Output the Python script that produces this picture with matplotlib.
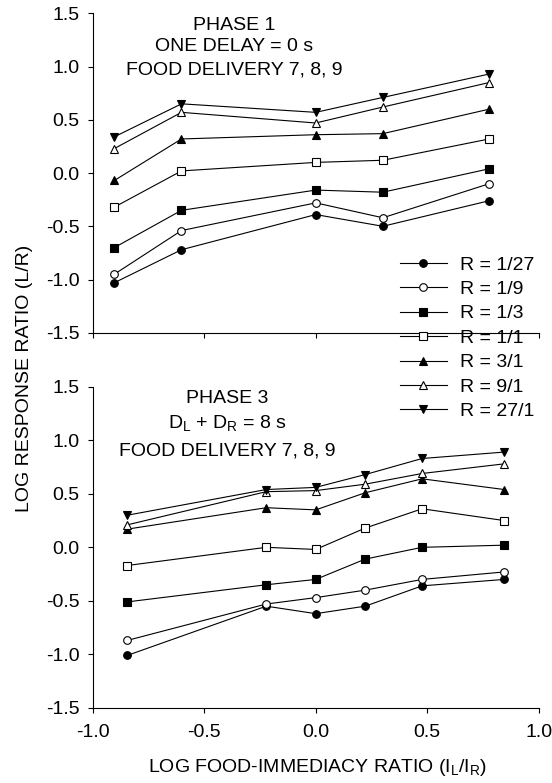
import matplotlib
matplotlib.use("Agg")
from matplotlib import pyplot as plt

plt.rcParams['font.family'] = ['Liberation Sans', 'DejaVu Sans']
plt.rcParams['mathtext.default'] = 'regular'
plt.rcParams['axes.unicode_minus'] = False

# phase 1 (top panel)
x_phase1 = [-0.903, -0.602, 0.0, 0.301, 0.778]
p1_r1_27 = [-1.03, -0.72, -0.39, -0.50, -0.26]
p1_r1_9 = [-0.95, -0.54, -0.28, -0.42, -0.10]
p1_r1_3 = [-0.70, -0.35, -0.16, -0.18, 0.04]
p1_r1_1 = [-0.32, 0.02, 0.10, 0.12, 0.32]
p1_r3_1 = [-0.07, 0.32, 0.36, 0.37, 0.60]
p1_r9_1 = [0.23, 0.57, 0.47, 0.62, 0.85]
p1_r27_1 = [0.34, 0.65, 0.57, 0.71, 0.93]

# phase 3 (bottom panel)
x_phase3 = [-0.845, -0.222, 0.0, 0.222, 0.477, 0.845]
p3_r1_27 = [-1.01, -0.55, -0.62, -0.55, -0.36, -0.30]
p3_r1_9 = [-0.87, -0.53, -0.47, -0.40, -0.30, -0.23]
p3_r1_3 = [-0.51, -0.35, -0.30, -0.11, 0.00, 0.02]
p3_r1_1 = [-0.17, 0.00, -0.02, 0.18, 0.36, 0.25]
p3_r3_1 = [0.17, 0.37, 0.35, 0.51, 0.64, 0.54]
p3_r9_1 = [0.21, 0.52, 0.53, 0.59, 0.69, 0.78]
p3_r27_1 = [0.30, 0.54, 0.56, 0.68, 0.83, 0.89]

labels = ['R = 1/27', 'R = 1/9', 'R = 1/3', 'R = 1/1', 'R = 3/1', 'R = 9/1', 'R = 27/1']
markers = ['o', 'o', 's', 's', '^', '^', 'v']
fills = ['black', 'white', 'black', 'white', 'black', 'white', 'black']

phase1 = [p1_r1_27, p1_r1_9, p1_r1_3, p1_r1_1, p1_r3_1, p1_r9_1, p1_r27_1]
phase3 = [p3_r1_27, p3_r1_9, p3_r1_3, p3_r1_1, p3_r3_1, p3_r9_1, p3_r27_1]

title1 = ['PHASE 1', 'ONE DELAY = 0 s', 'FOOD DELIVERY 7, 8, 9']
title3 = ['PHASE 3', 'D$_L$ + D$_R$ = 8 s', 'FOOD DELIVERY 7, 8, 9']

FS = 14

fig = plt.figure(figsize=(5.52, 7.83), dpi=100)
ax1 = fig.add_axes([0.168, 0.575, 0.808, 0.408])
ax2 = fig.add_axes([0.168, 0.096, 0.808, 0.410])


def draw_panel(ax, xs, series):
    handles = []
    for ys, lab, m, fc in zip(series, labels, markers, fills):
        h, = ax.plot(xs, ys, color='black', lw=0.8, marker=m, markersize=5.5,
                     markerfacecolor=fc, markeredgecolor='black', markeredgewidth=0.8,
                     label=lab)
        handles.append(h)
    ax.set_xlim(-1.0, 1.0)
    ax.set_ylim(-1.5, 1.5)
    ax.set_xticks([-1.0, -0.5, 0.0, 0.5, 1.0])
    ax.set_yticks([-1.5, -1.0, -0.5, 0.0, 0.5, 1.0, 1.5])
    ax.set_yticklabels(['%.1f' % v for v in ax.get_yticks()])
    ax.spines['top'].set_visible(False)
    ax.spines['right'].set_visible(False)
    ax.spines['left'].set_linewidth(0.8)
    ax.spines['bottom'].set_linewidth(0.8)
    ax.tick_params(direction='out', length=3.5, width=0.8, labelsize=FS)
    ax.tick_params(axis='y', pad=6)
    ax.tick_params(axis='x', pad=8)
    return handles


handles = draw_panel(ax1, x_phase1, phase1)
draw_panel(ax2, x_phase3, phase3)
ax1.tick_params(axis='x', labelbottom=False)
ax2.set_xticklabels(['%.1f' % v for v in ax2.get_xticks()])

for txt, y in zip(title1, [1.346, 1.147, 0.928]):
    ax1.text(-0.366, y, txt, ha='center', va='baseline', fontsize=FS)
for txt, y in zip(title3, [1.348, 1.114, 0.862]):
    ax2.text(-0.395, y, txt, ha='center', va='baseline', fontsize=FS)

fig.legend(handles, labels, loc='upper left', bbox_to_anchor=(0.7246, 0.673),
           frameon=False, fontsize=FS, handlelength=2.4, handletextpad=0.68,
           labelspacing=0.35, borderpad=0, borderaxespad=0)

fig.text(0.0435, 0.517, 'LOG RESPONSE RATIO (L/R)', rotation=90, ha='center',
         va='center', fontsize=FS)
fig.text(0.575, 0.0144, 'LOG FOOD-IMMEDIACY RATIO (I$_L$/I$_R$)', ha='center',
         va='baseline', fontsize=FS)

fig.savefig('out.png', dpi=100)
